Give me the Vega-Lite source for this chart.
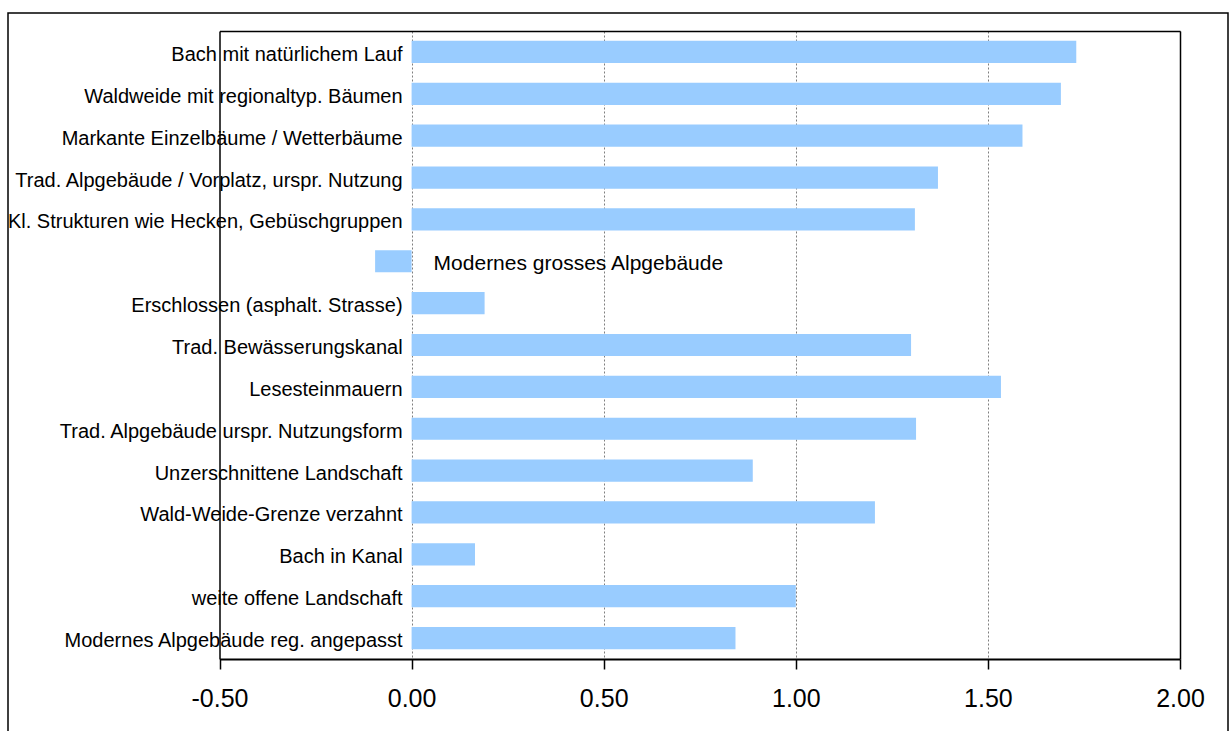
{
  "$schema": "https://vega.github.io/schema/vega-lite/v6.json",
  "width": 1220,
  "height": 722,
  "autosize": {"type": "none"},
  "padding": {"left": 8, "top": 13, "right": 4, "bottom": -4},
  "background": "white",
  "config": {
    "view": {"stroke": "black", "strokeWidth": 1.5},
    "font": "Liberation Sans"
  },
  "data": {
    "values": [
      {"label": "Bach mit natürlichem Lauf", "value": 1.73},
      {"label": "Waldweide mit regionaltyp. Bäumen", "value": 1.69},
      {"label": "Markante Einzelbäume / Wetterbäume", "value": 1.59},
      {"label": "Trad. Alpgebäude / Vorplatz, urspr. Nutzung", "value": 1.37},
      {"label": "Kl. Strukturen wie Hecken, Gebüschgruppen", "value": 1.31},
      {"label": "Modernes grosses Alpgebäude", "value": -0.095},
      {"label": "Erschlossen (asphalt. Strasse)", "value": 0.19},
      {"label": "Trad. Bewässerungskanal", "value": 1.30},
      {"label": "Lesesteinmauern", "value": 1.534},
      {"label": "Trad. Alpgebäude urspr. Nutzungsform", "value": 1.313},
      {"label": "Unzerschnittene Landschaft", "value": 0.888},
      {"label": "Wald-Weide-Grenze verzahnt", "value": 1.206},
      {"label": "Bach in Kanal ", "value": 0.165},
      {"label": "weite offene Landschaft", "value": 1.0},
      {"label": "Modernes Alpgebäude reg. angepasst", "value": 0.843}
    ]
  },
  "layer": [
    {
      "mark": {"type": "bar", "color": "#99CCFF"},
      "encoding": {
        "x": {
          "field": "value",
          "type": "quantitative",
          "scale": {"domain": [-0.5, 2], "range": [211.5, 1172], "nice": false},
          "axis": {
            "orient": "bottom",
            "offset": -76,
            "values": [-0.5, 0, 0.5, 1, 1.5, 2],
            "labelExpr": "datum.value < 0 ? '-' + format(-datum.value, '.2f') : format(datum.value, '.2f')",
            "labelFontSize": 25,
            "labelColor": "black",
            "labelFont": "Liberation Sans",
            "labelPadding": 17,
            "labelOverlap": false,
            "labelFlush": false,
            "tickSize": 10,
            "tickColor": "black",
            "tickWidth": 1.5,
            "domainColor": "black",
            "domainWidth": 2,
            "grid": false,
            "title": null,
            "zindex": 0
          }
        },
        "x2": {"datum": 0},
        "y": {
          "field": "label",
          "type": "nominal",
          "sort": null,
          "scale": {"range": [18, 646], "paddingInner": 0.47, "paddingOuter": 0.235},
          "axis": {
            "orient": "left",
            "offset": -211.5,
            "labels": false,
            "ticks": false,
            "grid": false,
            "domainColor": "black",
            "domainWidth": 1.5,
            "title": null,
            "zindex": 1
          }
        }
      }
    },
    {
      "mark": {"type": "text", "align": "right", "baseline": "middle", "dx": -9, "dy": 3, "fontSize": 20, "font": "Liberation Sans", "color": "black"},
      "encoding": {
        "x": {
          "datum": 0,
          "type": "quantitative",
          "axis": {
            "orient": "top",
            "offset": -18,
            "values": [0, 0.5, 1, 1.5, 2],
            "labels": false,
            "ticks": true,
            "tickSize": -628,
            "tickColor": "#7f7f7f",
            "tickWidth": 1,
            "tickDash": [2, 2],
            "grid": false,
            "domainColor": "black",
            "domainWidth": 1.5,
            "title": null,
            "zindex": 0
          }
        },
        "y": {"field": "label", "type": "nominal", "sort": null, "axis": null},
        "text": {"condition": {"test": "datum.value >= 0", "field": "label"}, "value": ""}
      }
    },
    {
      "mark": {"type": "text", "align": "left", "baseline": "middle", "dx": 22, "dy": 3, "fontSize": 21, "font": "Liberation Sans", "color": "black"},
      "encoding": {
        "x": {"datum": 0, "type": "quantitative", "axis": null},
        "y": {
          "field": "label",
          "type": "nominal",
          "sort": null,
          "axis": {
            "orient": "right",
            "offset": -48,
            "labels": false,
            "ticks": false,
            "grid": false,
            "domainColor": "black",
            "domainWidth": 1.5,
            "title": null,
            "zindex": 1
          }
        },
        "text": {"condition": {"test": "datum.value < 0", "field": "label"}, "value": ""}
      }
    }
  ],
  "resolve": {"axis": {"x": "independent", "y": "independent"}}
}
